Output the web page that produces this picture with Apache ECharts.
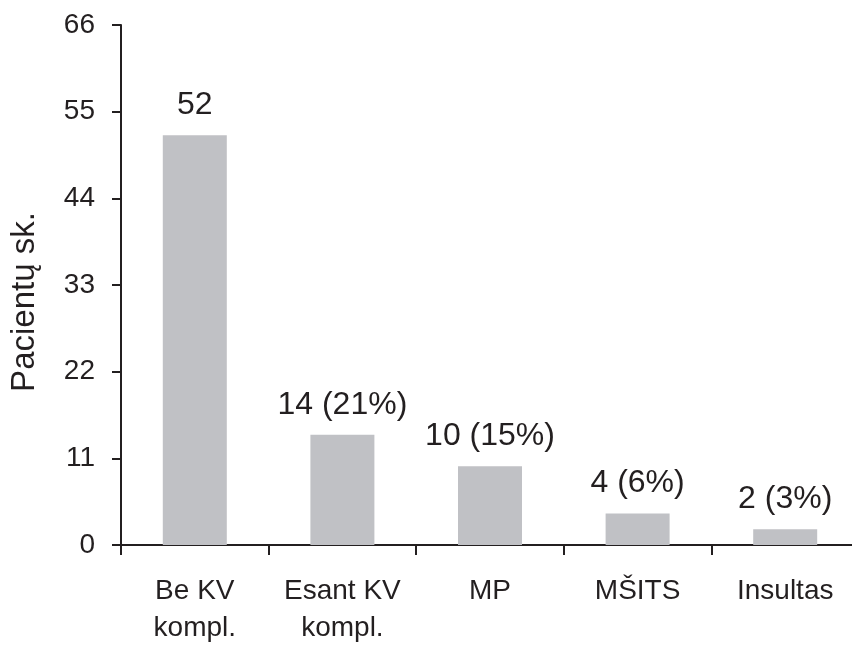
<!DOCTYPE html>
<html>
<head>
<meta charset="utf-8">
<script src="https://cdn.jsdelivr.net/npm/echarts@6/dist/echarts.min.js"></script>
<style>
  html, body { margin: 0; padding: 0; background: #fff; }
  #chart { width: 852px; height: 651px; }
</style>
</head>
<body>
<div id="chart"></div>
<script>
// Patient counts by outcome group
const categories = ['Be KV\nkompl.', 'Esant KV\nkompl.', 'MP', 'MŠITS', 'Insultas'];
const patients = [52, 14, 10, 4, 2];
const valueLabels = ['52', '14 (21%)', '10 (15%)', '4 (6%)', '2 (3%)'];
const yTicks = [0, 11, 22, 33, 44, 55, 66];

const font = '"Liberation Sans", Arial, sans-serif';
const ink = '#231f20';

const chart = echarts.init(document.getElementById('chart'), null, { renderer: 'canvas' });
chart.setOption({
  backgroundColor: '#ffffff',
  animation: false,
  // the last category runs slightly past the right edge of the canvas
  grid: {
    left: 121, width: 738, top: 25, bottom: 106,
    containLabel: false, outerBoundsMode: 'none'
  },
  xAxis: {
    type: 'category',
    data: categories,
    boundaryGap: true,
    axisLine: { lineStyle: { color: ink, width: 2 } },
    axisTick: { show: true, length: 10, lineStyle: { color: ink, width: 2 } },
    axisLabel: {
      color: ink, fontFamily: font, fontSize: 28, lineHeight: 37, margin: 28, interval: 0
    }
  },
  yAxis: {
    type: 'value',
    min: yTicks[0],
    max: yTicks[yTicks.length - 1],
    interval: yTicks[1] - yTicks[0],
    name: 'Pacientų sk.',
    nameLocation: 'middle',
    nameGap: 80,
    nameTextStyle: { color: ink, fontFamily: font, fontSize: 33, padding: [0, 34, 0, 0] },
    splitLine: { show: false },
    axisLine: { show: true, lineStyle: { color: ink, width: 2 } },
    axisTick: { show: true, length: 9, lineStyle: { color: ink, width: 2 } },
    axisLabel: { color: ink, fontFamily: font, fontSize: 28, margin: 26 }
  },
  series: [{
    type: 'bar',
    data: patients,
    barWidth: 64,
    itemStyle: { color: '#c0c1c5' },
    label: {
      show: true,
      position: 'top',
      distance: 14,
      color: ink,
      fontFamily: font,
      fontSize: 32,
      formatter: p => valueLabels[p.dataIndex]
    }
  }]
});
</script>
</body>
</html>
